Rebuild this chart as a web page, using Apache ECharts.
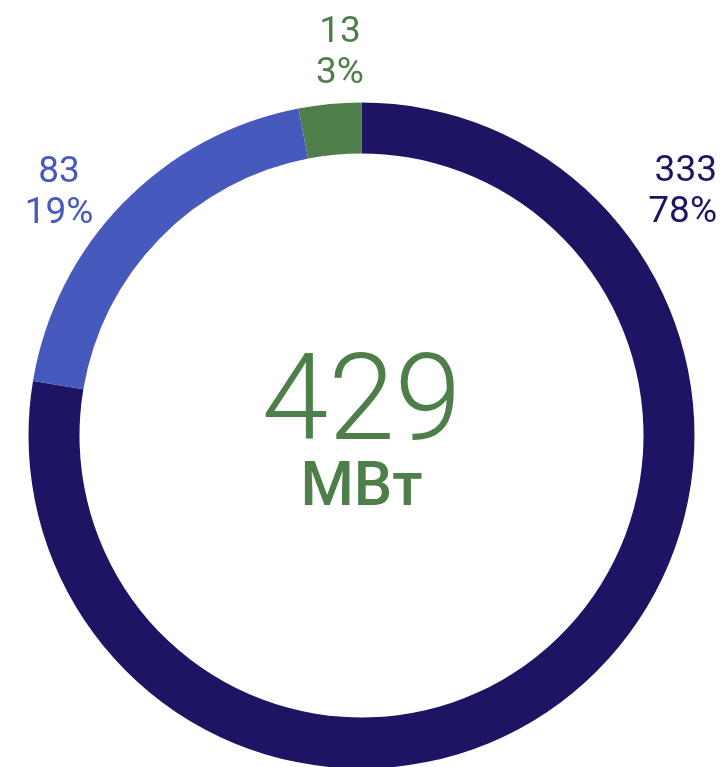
<!DOCTYPE html>
<html>
<head>
<meta charset="utf-8">
<script src="https://cdn.jsdelivr.net/npm/echarts@6/dist/echarts.min.js"></script>
<style>
  html, body { margin: 0; padding: 0; background: #fff; }
  #donut { width: 723px; height: 767px; }
</style>
</head>
<body>
<div id="donut"></div>
<script>
var names = ["333", "83", "13"];
var values = [333, 83, 13];
var percents = ["78%", "19%", "3%"];
var colors = ["#1e1464", "#4859bd", "#4e7f4b"];
var total = 429;
var unit = "МВт";

// where the labels sit
var labelPos = [
  { x: 717, y: 192, align: "right" },
  { x: 59, y: 193, align: "center" },
  { x: 340, y: 53, align: "center" },
];

var chart = echarts.init(document.getElementById("donut"));
chart.setOption({
  animation: false,
  series: [
    {
      type: "pie",
      center: [361.5, 435.5],
      radius: [282, 333],
      startAngle: 90,
      clockwise: true,
      silent: true,
      label: {
        show: true,
        position: "outside",
        alignTo: "none",
        overflow: "none",
        fontFamily: "Roboto",
        fontSize: 37,
        lineHeight: 41,
        formatter: function (p) {
          return p.value + "\n" + percents[p.dataIndex];
        },
      },
      labelLine: { show: false },
      labelLayout: function (p) {
        var lp = labelPos[p.dataIndex];
        return { x: lp.x, y: lp.y, align: lp.align, verticalAlign: "middle" };
      },
      data: values.map(function (v, i) {
        return {
          name: names[i],
          value: v,
          itemStyle: { color: colors[i] },
          label: { color: colors[i] },
        };
      }),
    },
  ],
  graphic: [
    {
      type: "text",
      left: "center",
      top: 349,
      style: {
        text: String(total),
        fontFamily: "Roboto",
        fontWeight: 300,
        fontSize: 120,
        fill: "#4e7f4b",
      },
    },
    {
      type: "text",
      left: "center",
      top: 459,
      style: {
        text: unit,
        fontFamily: "Roboto",
        fontWeight: 500,
        fontSize: 61,
        fill: "#4e7f4b",
      },
    },
  ],
});
</script>
</body>
</html>
